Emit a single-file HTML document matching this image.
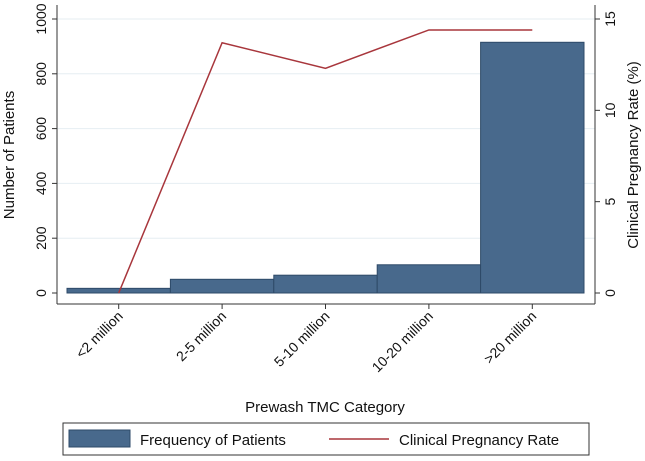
<!DOCTYPE html>
<html><head><meta charset="utf-8"><style>
body{margin:0;background:#fff}
svg{font-family:"Liberation Sans",sans-serif}
</style></head><body>
<svg width="645" height="456" viewBox="0 0 645 456">
<g id="grid"></g>
<g id="bars"></g>
<g id="line"></g>
<g id="axes"></g>
<text x="325" y="412" font-size="15" text-anchor="middle" fill="#111">Prewash TMC Category</text>
<text transform="translate(14,155) rotate(-90)" font-size="15" text-anchor="middle" fill="#111">Number of Patients</text>
<text transform="translate(638,155) rotate(-90)" font-size="15" text-anchor="middle" fill="#111">Clinical Pregnancy Rate (%)</text>
<g>
<rect x="63" y="423" width="526" height="32" fill="#fff" stroke="#333" stroke-width="1"/>
<g>
<rect x="69" y="430" width="61" height="17" fill="#48698c" stroke="#2e4a68"/>
<text x="140" y="445" font-size="15" fill="#111">Frequency of Patients</text>
</g>
<g>
<line x1="329" y1="439" x2="389" y2="439" stroke="#a8363c" stroke-width="1.5"/>
<text x="399" y="445" font-size="15" fill="#111">Clinical Pregnancy Rate</text>
</g>
</g>
</svg>
<script>
const categories=["<2 million","2-5 million","5-10 million","10-20 million",">20 million"];
const patients=[17,50,65,103,915];
const rates=[0,13.7,12.3,14.4,14.4];
const yTicks=[0,200,400,600,800,1000];
const y2Ticks=[0,5,10,15];
const NS="http://www.w3.org/2000/svg";
const X0=67,X1=584,Y0=293,Y1=19;
const bw=(X1-X0)/categories.length;
const xc=i=>X0+bw*(i+0.5);
const y=v=>Y0-(v/1000)*(Y0-Y1);
const y2=v=>Y0-(v/15)*(Y0-Y1);
function mk(t,a,p){const e=document.createElementNS(NS,t);for(const k in a)e.setAttribute(k,a[k]);p.appendChild(e);return e;}
const grid=document.getElementById('grid'),bars=document.getElementById('bars'),line=document.getElementById('line'),axes=document.getElementById('axes');
yTicks.forEach(v=>{
 if(v>0){const g=mk('line',{x1:57,x2:595,y1:y(v),y2:y(v),stroke:'#e6eef2','stroke-width':1},grid);
 
 }
 const t=mk('line',{x1:52,x2:57,y1:y(v),y2:y(v),stroke:'#333'},axes);
 
 
 const l=mk('text',{transform:`translate(46,${y(v)}) rotate(-90)`,'font-size':14,'text-anchor':'middle',fill:'#111'},axes);
 l.textContent=v;
 
 
});
y2Ticks.forEach(v=>{
 const t=mk('line',{x1:595,x2:600,y1:y2(v),y2:y2(v),stroke:'#333'},axes);
 
 
 const l=mk('text',{transform:`translate(615,${y2(v)}) rotate(-90)`,'font-size':14,'text-anchor':'middle',fill:'#111'},axes);
 l.textContent=v;
 
 
});
patients.forEach((v,i)=>{
 const r=mk('rect',{x:X0+bw*i,y:y(v),width:bw,height:Y0-y(v),fill:'#48698c',stroke:'#2e4a68','stroke-width':1},bars);
 
 
});
const pl=mk('polyline',{points:rates.map((v,i)=>xc(i)+','+y2(v)).join(' '),fill:'none',stroke:'#a8363c','stroke-width':1.5},line);


[[57,5,57,304],[595,5,595,304],[57,304,595,304]].forEach((c,k)=>{
 const a=mk('line',{x1:c[0],y1:c[1],x2:c[2],y2:c[3],stroke:'#333'},axes);
 
 
});
categories.forEach((c,i)=>{
 const t=mk('line',{x1:xc(i),x2:xc(i),y1:304,y2:309},axes);
 t.setAttribute('stroke','#333');
 
 
 const l=mk('text',{transform:`translate(${xc(i)+5},${317}) rotate(-45)`,'font-size':14,'text-anchor':'end',fill:'#111'},axes);
 l.textContent=c;
 
 
});
</script>
</body></html>
